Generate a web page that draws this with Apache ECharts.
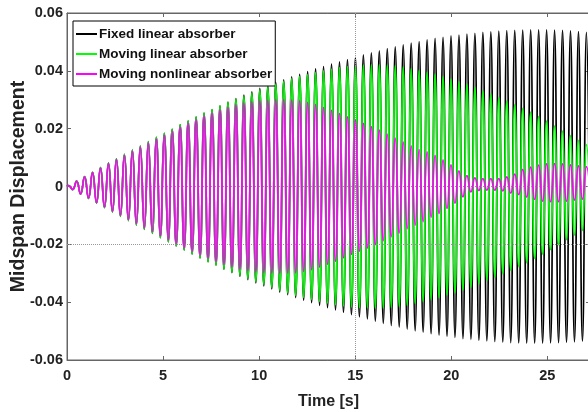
<!DOCTYPE html>
<html>
<head>
<meta charset="utf-8">
<script src="https://cdn.jsdelivr.net/npm/echarts@6/dist/echarts.min.js"></script>
<style>
html,body{margin:0;padding:0;background:#fff;}
#chart{width:588px;height:412px;}
</style>
</head>
<body>
<div id="chart"></div>
<script>
// Sample grid: successive half-cycle peaks of the response
const firstPeakTime = 0.0854;   // s
const halfPeriod = 0.2073;      // s
const seriesNames = ['Fixed linear absorber', 'Moving linear absorber', 'Moving nonlinear absorber'];
const seriesColors = ['#000000', '#00ff00', '#ff00ff'];
const xTicks = [0, 5, 10, 15, 20, 25];
const yTicks = [-0.06, -0.04, -0.02, 0, 0.02, 0.04, 0.06];
const refLinesY = [0, -0.02];
const refLinesX = [15];

// peak values (alternating signs) of each response
const fixedLinear = [
0.0003,-0.0011,0.0019,-0.0026,0.0034,-0.0041,0.0049,-0.0057,0.0065,-0.0073,
0.0081,-0.0088,0.0096,-0.0103,0.0111,-0.0118,0.0126,-0.0133,0.0140,-0.0148,
0.0155,-0.0162,0.0170,-0.0177,0.0184,-0.0191,0.0198,-0.0205,0.0213,-0.0219,
0.0226,-0.0233,0.0240,-0.0247,0.0254,-0.0260,0.0266,-0.0272,0.0279,-0.0286,
0.0292,-0.0298,0.0304,-0.0310,0.0316,-0.0322,0.0327,-0.0333,0.0339,-0.0344,
0.0349,-0.0354,0.0360,-0.0365,0.0369,-0.0374,0.0379,-0.0384,0.0388,-0.0393,
0.0397,-0.0402,0.0407,-0.0411,0.0415,-0.0419,0.0423,-0.0427,0.0431,-0.0435,
0.0439,-0.0443,0.0447,-0.0451,0.0455,-0.0458,0.0462,-0.0466,0.0469,-0.0473,
0.0477,-0.0480,0.0483,-0.0486,0.0490,-0.0493,0.0496,-0.0499,0.0501,-0.0504,
0.0507,-0.0509,0.0512,-0.0514,0.0516,-0.0518,0.0521,-0.0522,0.0524,-0.0526,
0.0527,-0.0529,0.0530,-0.0532,0.0533,-0.0534,0.0535,-0.0536,0.0537,-0.0538,
0.0539,-0.0540,0.0540,-0.0541,0.0541,-0.0542,0.0542,-0.0542,0.0542,-0.0542,
0.0542,-0.0541,0.0541,-0.0540,0.0540,-0.0539,0.0538,-0.0537,0.0536,-0.0535,
0.0533,-0.0532];

const movingLinear = [
0.0003,-0.0011,0.0019,-0.0026,0.0034,-0.0041,0.0049,-0.0057,0.0065,-0.0073,
0.0081,-0.0088,0.0096,-0.0103,0.0111,-0.0118,0.0126,-0.0133,0.0140,-0.0148,
0.0155,-0.0162,0.0170,-0.0177,0.0184,-0.0191,0.0198,-0.0205,0.0213,-0.0219,
0.0226,-0.0233,0.0240,-0.0247,0.0254,-0.0260,0.0266,-0.0272,0.0279,-0.0285,
0.0291,-0.0296,0.0302,-0.0307,0.0312,-0.0318,0.0323,-0.0329,0.0334,-0.0339,
0.0344,-0.0349,0.0354,-0.0359,0.0364,-0.0368,0.0373,-0.0377,0.0381,-0.0384,
0.0387,-0.0391,0.0394,-0.0397,0.0400,-0.0403,0.0406,-0.0409,0.0411,-0.0413,
0.0415,-0.0417,0.0418,-0.0419,0.0420,-0.0420,0.0421,-0.0421,0.0421,-0.0421,
0.0420,-0.0419,0.0418,-0.0416,0.0414,-0.0411,0.0408,-0.0405,0.0402,-0.0399,
0.0396,-0.0392,0.0389,-0.0385,0.0381,-0.0376,0.0372,-0.0368,0.0363,-0.0359,
0.0354,-0.0350,0.0344,-0.0338,0.0332,-0.0326,0.0320,-0.0314,0.0308,-0.0302,
0.0296,-0.0290,0.0283,-0.0277,0.0270,-0.0264,0.0257,-0.0249,0.0242,-0.0234,
0.0226,-0.0218,0.0209,-0.0201,0.0192,-0.0184,0.0176,-0.0168,0.0160,-0.0152,
0.0145,-0.0137];

const movingNonlinear = [
0.0003,-0.0010,0.0018,-0.0026,0.0033,-0.0040,0.0048,-0.0056,0.0064,-0.0071,
0.0079,-0.0086,0.0093,-0.0100,0.0108,-0.0115,0.0122,-0.0129,0.0137,-0.0144,
0.0151,-0.0157,0.0164,-0.0171,0.0178,-0.0185,0.0192,-0.0198,0.0205,-0.0212,
0.0218,-0.0225,0.0231,-0.0238,0.0244,-0.0249,0.0255,-0.0260,0.0266,-0.0270,
0.0274,-0.0278,0.0282,-0.0286,0.0288,-0.0291,0.0293,-0.0295,0.0297,-0.0298,
0.0299,-0.0300,0.0301,-0.0301,0.0301,-0.0300,0.0300,-0.0299,0.0297,-0.0294,
0.0291,-0.0288,0.0284,-0.0279,0.0274,-0.0269,0.0264,-0.0259,0.0253,-0.0247,
0.0241,-0.0235,0.0230,-0.0224,0.0218,-0.0213,0.0207,-0.0201,0.0195,-0.0188,
0.0181,-0.0174,0.0167,-0.0161,0.0154,-0.0147,0.0141,-0.0134,0.0128,-0.0122,
0.0120,-0.0106,0.0108,-0.0094,0.0092,-0.0076,0.0075,-0.0058,0.0054,-0.0036,
0.0038,-0.0019,0.0030,-0.0014,0.0027,-0.0013,0.0027,-0.0013,0.0027,-0.0015,
0.0033,-0.0023,0.0043,-0.0028,0.0059,-0.0037,0.0067,-0.0045,0.0074,-0.0051,
0.0078,-0.0053,0.0079,-0.0053,0.0078,-0.0051,0.0075,-0.0047,0.0071,-0.0044,
0.0069,-0.0042];

function toPairs(values) {
  const pts = [[0, 0]];
  values.forEach(function (v, j) { pts.push([firstPeakTime + halfPeriod * j, v]); });
  return pts;
}
const allValues = [fixedLinear, movingLinear, movingNonlinear];

const FONT = "'Liberation Sans', Arial, Helvetica, sans-serif";
const AXC = '#666';
const chart = echarts.init(document.getElementById('chart'), null, {renderer: 'canvas'});

const dataSeries = seriesNames.map(function (name, i) {
  return {
    name: name, type: 'line', data: toPairs(allValues[i]),
    smooth: true, symbol: 'none', showSymbol: false, sampling: null,
    lineStyle: {color: seriesColors[i], width: 1.7}, itemStyle: {color: seriesColors[i]},
    emphasis: {disabled: true}, silent: true, clip: true, z: 3 + i
  };
});

const refSeries = {
  type: 'line', data: [], silent: true, z: 1,
  markLine: {
    symbol: 'none', silent: true, animation: false,
    label: {show: false},
    lineStyle: {type: 'dotted', color: '#999', width: 1},
    data: refLinesY.map(function (v) { return {yAxis: v}; })
      .concat(refLinesX.map(function (v) { return {xAxis: v}; }))
  }
};

const xMax = 27.22;
option = {
  animation: false,
  backgroundColor: '#fff',
  grid: {left: 67, top: 13, right: -2, bottom: 52, containLabel: false, outerBoundsMode: 'none',
         show: true, borderColor: AXC, borderWidth: 1, backgroundColor: '#fff'},
  legend: {
    orient: 'vertical', left: 73, top: 21,
    icon: 'rect', itemWidth: 21, itemHeight: 2, itemGap: 6,
    padding: [6, 3, 5, 3],
    borderColor: '#000', borderWidth: 1, backgroundColor: '#fff',
    textStyle: {fontSize: 13.5, fontWeight: 'bold', color: '#111', fontFamily: FONT, lineHeight: 14, padding: [0, 0, 0, -3]},
    data: seriesNames
  },
  xAxis: [{
    type: 'value', min: xTicks[0], max: xMax, interval: 5,
    axisLine: {show: true, onZero: false, lineStyle: {color: AXC}},
    axisTick: {inside: true, length: 4, lineStyle: {color: AXC}},
    axisLabel: {showMaxLabel: false, fontSize: 14.5, fontWeight: 'bold', color: '#222', fontFamily: FONT, margin: 8},
    splitLine: {show: false},
    name: 'Time [s]', nameLocation: 'middle', nameGap: 34, nameMoveOverlap: false,
    nameTextStyle: {fontSize: 16, fontWeight: 'bold', color: '#222', fontFamily: FONT}
  }, {
    type: 'value', position: 'top', min: xTicks[0], max: xMax, interval: 5,
    axisLine: {show: true, onZero: false, lineStyle: {color: AXC}},
    axisTick: {inside: true, length: 4, lineStyle: {color: AXC}},
    axisLabel: {show: false}, splitLine: {show: false}
  }],
  yAxis: [{
    type: 'value', min: yTicks[0], max: yTicks[yTicks.length - 1], interval: 0.02,
    axisLine: {show: true, onZero: false, lineStyle: {color: AXC}},
    axisTick: {inside: true, length: 4, lineStyle: {color: AXC}},
    axisLabel: {fontSize: 14.5, fontWeight: 'bold', color: '#222', fontFamily: FONT, margin: 4},
    splitLine: {show: false},
    name: 'Midspan Displacement', nameLocation: 'middle', nameGap: 38, nameMoveOverlap: false,
    nameTextStyle: {fontSize: 19.5, fontWeight: 'bold', color: '#222', fontFamily: FONT}
  }, {
    type: 'value', position: 'right', min: yTicks[0], max: yTicks[yTicks.length - 1], interval: 0.02,
    axisLine: {show: true, onZero: false, lineStyle: {color: AXC}},
    axisTick: {inside: true, length: 4, lineStyle: {color: AXC}},
    axisLabel: {show: false}, splitLine: {show: false}
  }],
  series: [refSeries].concat(dataSeries)
};
chart.setOption(option);
</script>
</body>
</html>
